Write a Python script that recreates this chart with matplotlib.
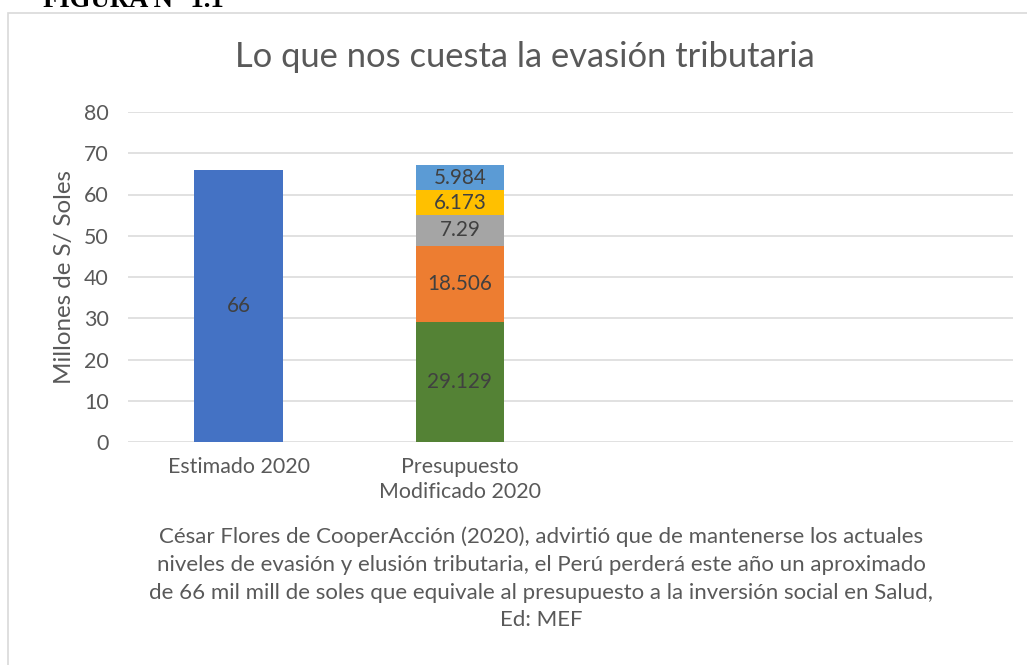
import matplotlib
matplotlib.use("Agg")
import matplotlib.pyplot as plt
from matplotlib.patches import Rectangle

categories = ["Estimado 2020", "Presupuesto\nModificado 2020", "", ""]
estimado = [66, 0, 0, 0]
seg_values = [
    [0, 29.129, 0, 0],
    [0, 18.506, 0, 0],
    [0, 7.29, 0, 0],
    [0, 6.173, 0, 0],
    [0, 5.984, 0, 0],
]
seg_labels = ["29.129", "18.506", "7.29", "6.173", "5.984"]
seg_colors = ["#548235", "#ED7D31", "#A5A5A5", "#FFC000", "#5B9BD5"]
yticks = [0, 10, 20, 30, 40, 50, 60, 70, 80]

title = "Lo que nos cuesta la evasión tributaria"
ylabel = "Millones de S/ Soles"
caption_lines = [
    "César Flores de CooperAcción (2020), advirtió que de mantenerse los actuales",
    "niveles de evasión y elusión tributaria, el Perú perderá este año un aproximado",
    "de 66 mil mill de soles que equivale al presupuesto a la inversión social en Salud,",
    "Ed: MEF",
]

W, H = 1027, 665
fig = plt.figure(figsize=(W / 100, H / 100), dpi=100)
fnt = "Lato"
renderer = fig.canvas.get_renderer()


def fit(text, target_px, **kw):
    t = fig.text(0, 0, text, fontsize=10, **kw)
    w = t.get_window_extent(renderer).width
    t.remove()
    return 10 * target_px / w


fs_title = fit(title, 580, family=fnt)
fs_cap = fit(caption_lines[1], 767, family=fnt)
fs_tick = fit("Estimado 2020", 142, family=fnt)
fs_ylab = fit(ylabel, 215, family=fnt)
fs_lab = fit("18.506", 65, family=fnt)
fs_fig = fit("FIGURA N° 1.1", 180, family="Liberation Serif", weight="bold")

# border
fig.patches.append(Rectangle((8 / W, -0.1), 1.2, 1 - 13 / H + 0.1, transform=fig.transFigure,
                             fill=False, edgecolor="#D9D9D9", linewidth=1.2))
fig.text(43 / W, 1 - 7 / H, "FIGURA N° 1.1", family="Liberation Serif", weight="bold",
         fontsize=fs_fig, va="baseline", ha="left", color="black")

ax = fig.add_axes([128 / W, 1 - 442 / H, (1013 - 128) / W, (442 - 112) / H])
x = list(range(len(categories)))
width = 0.4

ax.bar(x, estimado, width=width, color="#4472C4", zorder=3)
ax.text(x[0], estimado[0] / 2, "66", ha="center", va="center", fontsize=fs_lab,
        color="#404040", family=fnt, zorder=4)

bottom = [0] * len(categories)
for vals, lab, col in zip(seg_values, seg_labels, seg_colors):
    ax.bar(x, vals, width=width, bottom=bottom, color=col, zorder=3)
    ax.text(x[1], bottom[1] + vals[1] / 2, lab, ha="center", va="center", fontsize=fs_lab,
            color="#404040", family=fnt, zorder=4)
    bottom = [b + v for b, v in zip(bottom, vals)]

ax.set_xlim(-0.5, len(categories) - 0.5)
ax.set_ylim(0, 80)
ax.set_yticks(yticks)
ax.set_yticklabels([str(t) for t in yticks], family=fnt, fontsize=fs_tick, color="#595959")
ax.set_xticks(x[:2])
ax.set_xticklabels(categories[:2], family=fnt, fontsize=fs_tick, color="#595959", linespacing=1.3)
ax.tick_params(axis="y", length=0, pad=14)
ax.tick_params(axis="x", length=0, pad=11)
ax.grid(axis="y", color="#D9D9D9", linewidth=1.1, zorder=0)
for s in ax.spines.values():
    s.set_visible(False)
ax.set_ylabel(ylabel, family=fnt, fontsize=fs_ylab, color="#595959", labelpad=6)

fig.text(525 / W, 1 - 57 / H, title, family=fnt, fontsize=fs_title, color="#595959",
         ha="center", va="center")
cap_y = [537, 565, 593, 620]
for line, yy in zip(caption_lines, cap_y):
    fig.text(541 / W, 1 - yy / H, line, family=fnt, fontsize=fs_cap, color="#595959",
             ha="center", va="center")

fig.savefig("out.png", dpi=100)
